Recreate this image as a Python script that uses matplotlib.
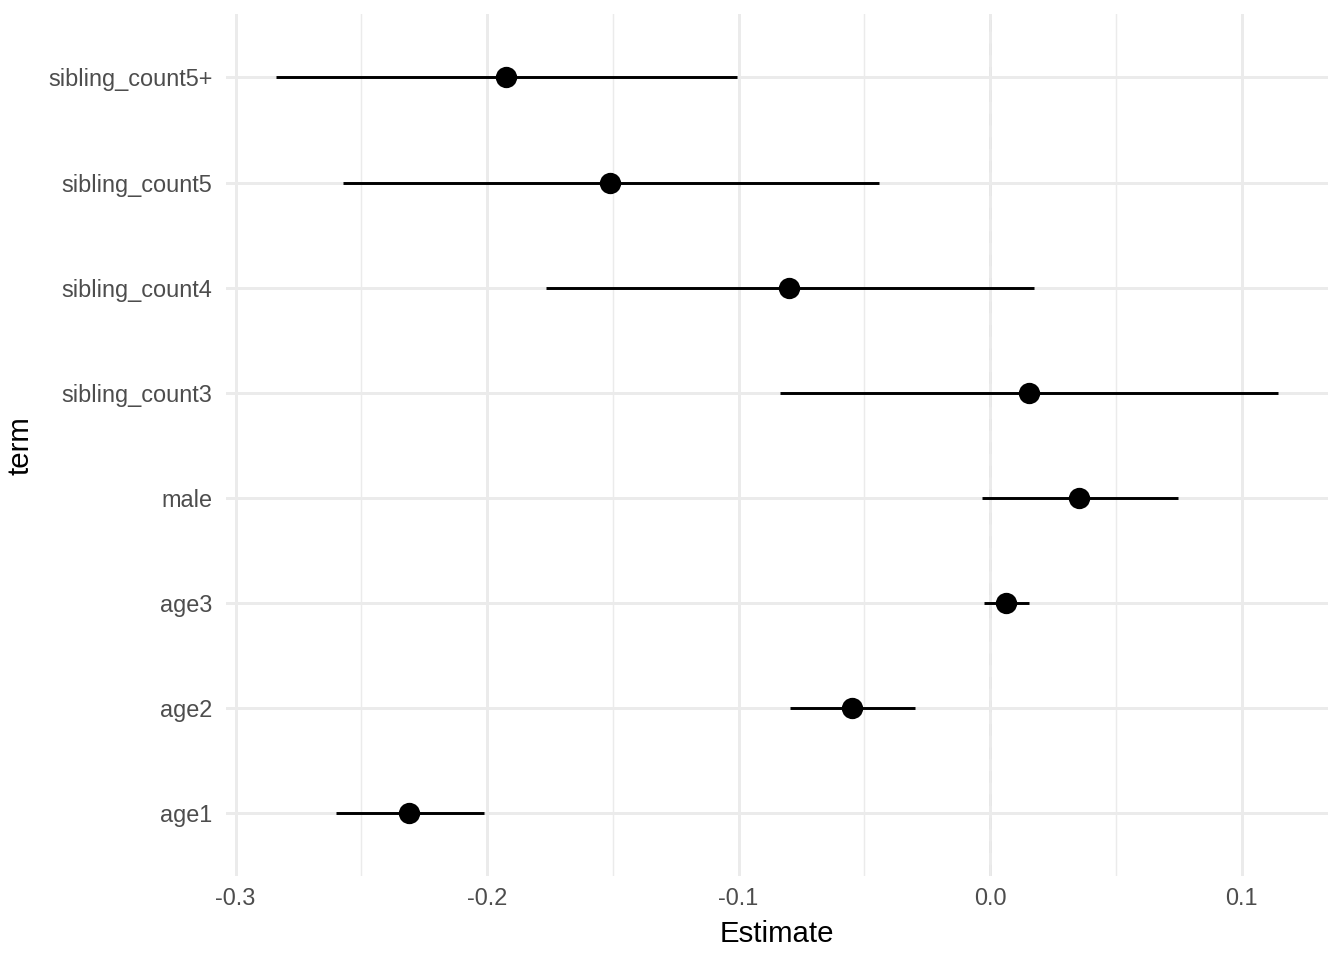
import numpy as np
import matplotlib
matplotlib.use("Agg")
import matplotlib.pyplot as plt
from matplotlib.ticker import MultipleLocator

plt.rcParams['font.family'] = ['Liberation Sans', 'DejaVu Sans']

# coefficient estimates
terms = ["age1", "age2", "age3", "male",
         "sibling_count3", "sibling_count4", "sibling_count5", "sibling_count5+"]
estimate = [-0.2312, -0.0548, 0.0064, 0.0354, 0.0155, -0.0798, -0.1510, -0.1923]
conf_low = [-0.2602, -0.0794, -0.0024, -0.0032, -0.0834, -0.1764, -0.2574, -0.2840]
conf_high = [-0.2014, -0.0298, 0.0155, 0.0747, 0.1144, 0.0175, -0.0441, -0.1005]

fig = plt.figure(figsize=(7, 5), dpi=192)
ax = fig.add_axes([0.168, 0.0875, 0.820, 0.8975])

ypos = np.arange(1, len(terms) + 1)

# grid like theme_minimal
ax.xaxis.set_major_locator(MultipleLocator(0.1))
ax.xaxis.set_minor_locator(MultipleLocator(0.05))
ax.grid(which="major", axis="both", color="#EBEBEB", lw=1.1, zorder=0)
ax.grid(which="minor", axis="x", color="#EBEBEB", lw=0.55, zorder=0)

ax.axvline(0, color="#7F7F7F", ls=(0, (4, 4)), lw=1.1, zorder=1)
ax.hlines(ypos, conf_low, conf_high, color="black", lw=1.1, zorder=2)
ax.plot(estimate, ypos, "o", color="black", ms=7, zorder=3)

lo, hi = min(conf_low), max(conf_high)
pad = (hi - lo) * 0.05
ax.set_xlim(lo - pad, hi + pad)
ax.set_ylim(0.4, len(terms) + 0.6)
ax.set_yticks(ypos)
ax.set_yticklabels(terms)
ax.set_xticks([-0.3, -0.2, -0.1, 0.0, 0.1])
ax.set_xticklabels(["-0.3", "-0.2", "-0.1", "0.0", "0.1"])

ax.tick_params(which="both", length=0, labelsize=8.8, labelcolor="#4D4D4D", pad=4)
ax.tick_params(axis="y", pad=5)
for s in ax.spines.values():
    s.set_visible(False)

ax.set_xlabel("Estimate", fontsize=11, labelpad=4)
ax.set_ylabel("term", fontsize=11, labelpad=5)

fig.savefig("out.png", dpi=192)
